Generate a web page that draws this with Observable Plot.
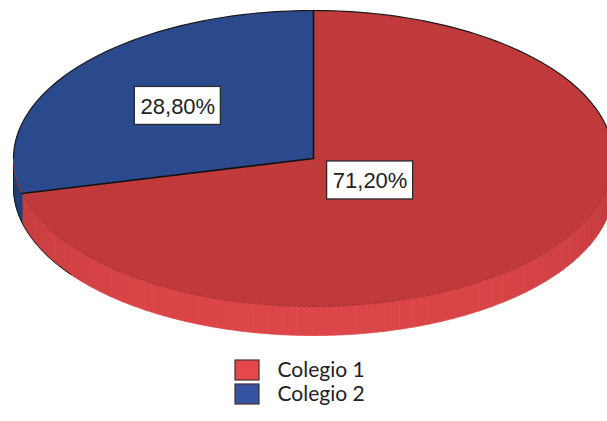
<!DOCTYPE html>
<html><head><meta charset="utf-8">
<script src="https://cdn.jsdelivr.net/npm/d3@7"></script>
<script src="https://cdn.jsdelivr.net/npm/@observablehq/plot@0.6"></script>
<style>body{margin:0;background:#fff}</style>
</head><body><div id="chart"></div>
<script>
const categories = ["Colegio 1", "Colegio 2"];
const values = [71.2, 28.8];
const labels = ["71,20%", "28,80%"];
const topColors = ["#c03a3c", "#2b4a8e"];
const sideDark = ["#bb383a", "#1f3a72"];
const sideLight = ["#dd4649", "#2a4788"];
const legendColors = ["#e5484b", "#3555a3"];

// layout
const W = 607, H = 421;
const cx = 313, cy = 158, rx = 300, ry = 148, depth = 29;
const labelR = [0.24, 0.575];

const total = d3.sum(values);
let acc = 0;
const slices = values.map((v, i) => {
  const a0 = acc / total * 2 * Math.PI; acc += v;
  const a1 = acc / total * 2 * Math.PI;
  return {i, a0, a1};
});
const pt = (t, dy = 0) => ({x: cx + rx * Math.sin(t), y: cy - ry * Math.cos(t) + dy});
function arc(a0, a1, dy = 0, n = 150) {
  const out = [];
  for (let k = 0; k <= n; k++) out.push(pt(a0 + (a1 - a0) * k / n, dy));
  return out;
}

const marks = [];
// sides, shaded in strips
slices.forEach(s => {
  const s0 = Math.max(s.a0, Math.PI / 2), s1 = Math.min(s.a1, 3 * Math.PI / 2);
  if (s0 < s1) {
    const nStrips = Math.max(2, Math.ceil((s1 - s0) / 0.05));
    const shade = d3.interpolateRgb(sideDark[s.i], sideLight[s.i]);
    for (let k = 0; k < nStrips; k++) {
      const t0 = s0 + (s1 - s0) * k / nStrips;
      const t1 = s0 + (s1 - s0) * (k + 1) / nStrips;
      const tm = (t0 + t1) / 2;
      const c = shade(Math.pow(Math.max(0, -Math.cos(tm)), 0.8));
      const poly = arc(t0, t1, 0, 6).concat(arc(t1, t0, depth, 6));
      marks.push(Plot.line(poly, {x: "x", y: "y", fill: c, stroke: c, strokeWidth: 0.8, curve: "linear-closed"}));
    }
  }
});
// silhouette of side
marks.push(Plot.line([pt(3 * Math.PI / 2), ...arc(3 * Math.PI / 2, Math.PI * 1.3, depth, 40)], {x: "x", y: "y", stroke: "#1a1a2a", strokeWidth: 1}));
// tops
slices.forEach(s => {
  const poly = [{x: cx, y: cy}].concat(arc(s.a0, s.a1));
  marks.push(Plot.line(poly, {x: "x", y: "y", fill: topColors[s.i], stroke: "none", curve: "linear-closed"}));
});
// outlines: back arc dark, front arc faint
marks.push(Plot.line(arc(-Math.PI / 2, Math.PI / 2), {x: "x", y: "y", stroke: "#1a1a1a", strokeWidth: 1.2}));
marks.push(Plot.line(arc(Math.PI / 2, 3 * Math.PI / 2), {x: "x", y: "y", stroke: "#a52e30", strokeWidth: 1, strokeDasharray: "3,2"}));
// radii
slices.forEach(s => {
  const p = pt(s.a0);
  marks.push(Plot.line([{x: cx, y: cy}, p], {x: "x", y: "y", stroke: "#111", strokeWidth: 1.6}));
});

// labels
const labelData = slices.map(s => {
  const m = (s.a0 + s.a1) / 2, f = labelR[s.i];
  return {x: cx + rx * f * Math.sin(m), y: cy - ry * f * Math.cos(m), text: labels[s.i]};
});
marks.push(Plot.rect(labelData, {x1: d => d.x - 43, x2: d => d.x + 43, y1: d => d.y - 19, y2: d => d.y + 19, fill: "white", stroke: "#2a2a2a", strokeWidth: 1.3}));
marks.push(Plot.text(labelData, {x: "x", y: "y", text: "text", fontSize: 22, fontFamily: "Liberation Sans, Arial", fill: "#222", dy: 1}));

// legend
const legendRows = categories.map((c, i) => ({name: c, color: legendColors[i], y: 370 + i * 24}));
marks.push(Plot.rect(legendRows, {x1: 235, x2: 259, y1: d => d.y - 10, y2: d => d.y + 10, fill: "color", stroke: "#4a2d2d", strokeWidth: 1.2}));
marks.push(Plot.text(legendRows, {x: 277, y: "y", text: "name", textAnchor: "start", fontSize: 21, fontFamily: "Lato", fill: "#222"}));

const chart = Plot.plot({
  width: W, height: H, margin: 0,
  x: {domain: [0, W], range: [0, W], axis: null},
  y: {domain: [0, H], range: [0, H], axis: null},
  color: {type: "identity"},
  style: {background: "white"},
  marks
});
document.getElementById("chart").append(chart);
</script>
</body></html>
